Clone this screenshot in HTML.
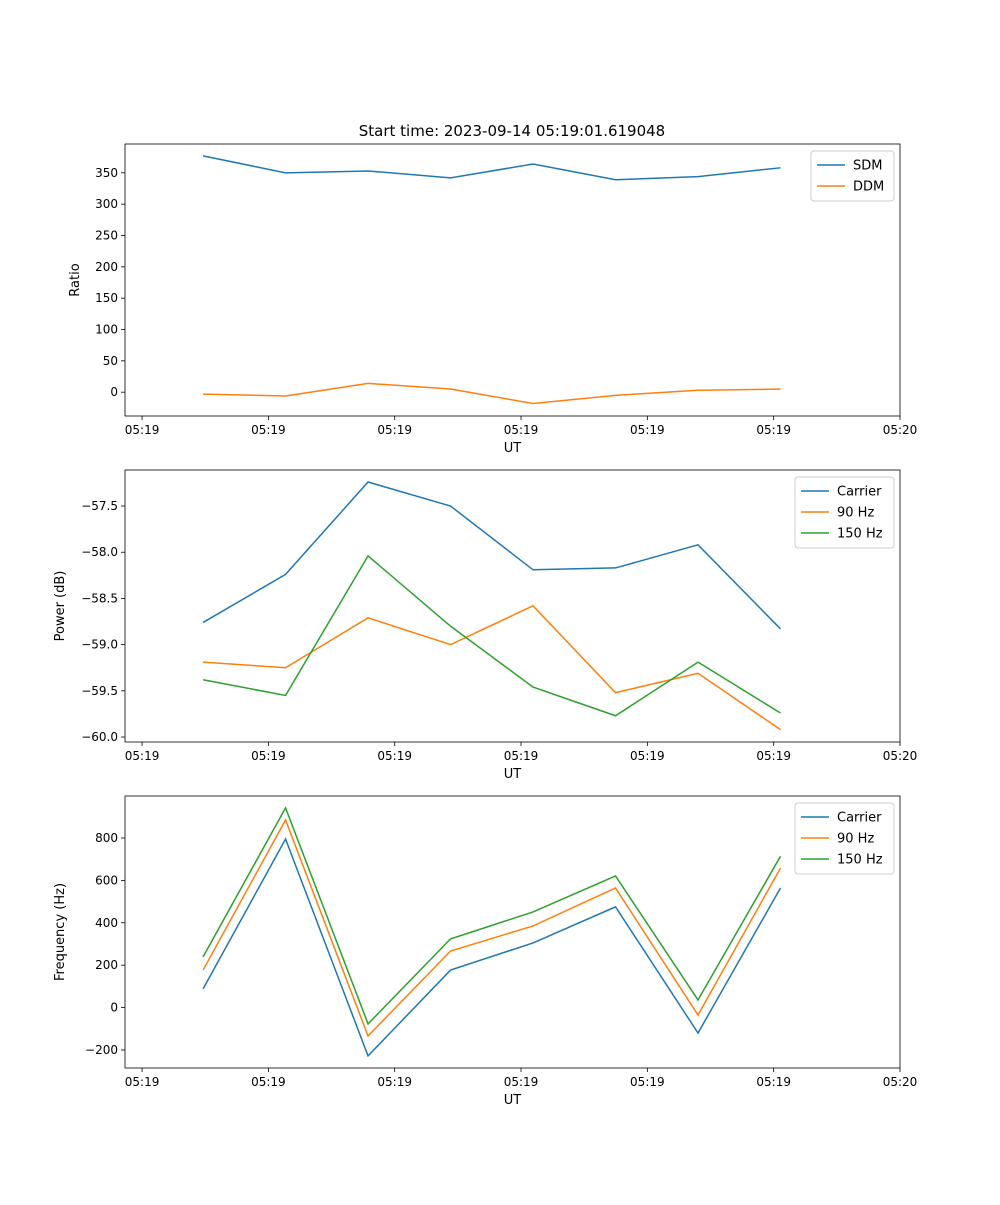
<!DOCTYPE html>
<html><head><meta charset="utf-8"><style>
body{margin:0;background:#fff}
svg{font-family:"DejaVu Sans","Liberation Sans",sans-serif}
</style></head><body>
<svg id="chart" width="1000" height="1200"></svg>
<script>
const times=[0.483,1.136,1.789,2.442,3.095,3.748,4.401,5.054];
const tickTimes=[0,1,2,3,4,5,6];
const tickLabels=["05:19","05:19","05:19","05:19","05:19","05:19","05:20"];
const sdm=[377,350,353,342,364,339,344,358];
const ddm=[-3,-6,14,5,-18,-5,3,5];
const powCarrier=[-58.76,-58.24,-57.24,-57.5,-58.19,-58.17,-57.92,-58.83];
const pow90=[-59.19,-59.25,-58.71,-59.0,-58.58,-59.52,-59.31,-59.92];
const pow150=[-59.38,-59.55,-58.04,-58.8,-59.46,-59.77,-59.19,-59.74];
const frqCarrier=[88,795,-228,177,305,475,-120,564];
const frq90=[177,885,-134,267,385,564,-35,658];
const frq150=[239,942,-77,324,451,621,36,714];
const ticks1=[0,50,100,150,200,250,300,350];
const ticks2=[-60.0,-59.5,-59.0,-58.5,-58.0,-57.5];
const ticks3=[-200,0,200,400,600,800];
const C=['#1f77b4','#ff7f0e','#2ca02c'];
const svg=document.getElementById('chart');
const NS='http://www.w3.org/2000/svg';
function mk(tag,attrs,parent,text){const e=document.createElementNS(NS,tag);for(const k in attrs)e.setAttribute(k,attrs[k]);if(text!==undefined)e.textContent=text;(parent||svg).appendChild(e);return e;}
const L=125,R=900,xmin=-0.135,xmax=6.0;
const xs=t=>L+(t-xmin)/(xmax-xmin)*(R-L);
function panel(name,top,bot,ymin,ymax,ticks,fmt,ylabel,series,names,legW){
  const g=mk('g',{},svg);
  
  
  const ys=v=>bot-(v-ymin)/(ymax-ymin)*(bot-top);
  ticks.forEach(v=>{const y=ys(v);
    mk('line',{x1:L-4,x2:L,y1:y,y2:y,stroke:'#000','stroke-width':0.8},g);
    const t=mk('text',{x:L-7,y:y+4,'text-anchor':'end','font-size':12},g,fmt(v).replace('-','\u2212'));
    
    });
  tickTimes.forEach((tt,i)=>{const x=xs(tt);
    mk('line',{x1:x,x2:x,y1:bot,y2:bot+4,stroke:'#000','stroke-width':0.8},g);
    const t=mk('text',{x:x,y:bot+18,'text-anchor':'middle','font-size':12},g,tickLabels[i]);
    
    });
  series.forEach((s,i)=>{const p=mk('polyline',{points:s.map((v,j)=>xs(times[j])+','+ys(v)).join(' '),fill:'none',stroke:C[i],'stroke-width':1.5},g);
    
    });
  mk('rect',{x:L,y:top,width:R-L,height:bot-top,fill:'none',stroke:'#000','stroke-width':0.8},g);
  const xl=mk('text',{x:(L+R)/2,y:bot+36,'text-anchor':'middle','font-size':13},g,'UT');
  
  
  const yl=mk('text',{x:0,y:0,'text-anchor':'middle','font-size':13,transform:`translate(${name==='ratio-panel'?79:64},${(top+bot)/2}) rotate(-90)`},g,ylabel);
  
  
  const lx=R-6-legW,ly=top+7,lh=names.length*21+8;
  const lg=mk('g',{},g);
  
  
  mk('rect',{x:lx,y:ly,width:legW,height:lh,rx:3,fill:'#fff',stroke:'#ccc'},lg);
  names.forEach((n,i)=>{const y=ly+14+i*21;
    mk('line',{x1:lx+6,x2:lx+34,y1:y,y2:y,stroke:C[i],'stroke-width':1.5},lg);
    const t=mk('text',{x:lx+42,y:y+4.5,'font-size':13},lg,n);
    
    });
}
const title=mk('text',{x:512,y:136,'text-anchor':'middle','font-size':15},svg,'Start time: 2023-09-14 05:19:01.619048');


panel('ratio-panel',144,416,-38,396,ticks1,v=>String(v),'Ratio',[sdm,ddm],['SDM','DDM'],83);
panel('power-panel',470,742,-60.054,-57.11,ticks2,v=>v.toFixed(1),'Power (dB)',[powCarrier,pow90,pow150],['Carrier','90 Hz','150 Hz'],99);
panel('frequency-panel',796,1068,-285,998,ticks3,v=>String(v),'Frequency (Hz)',[frqCarrier,frq90,frq150],['Carrier','90 Hz','150 Hz'],99);
</script>
</body></html>
